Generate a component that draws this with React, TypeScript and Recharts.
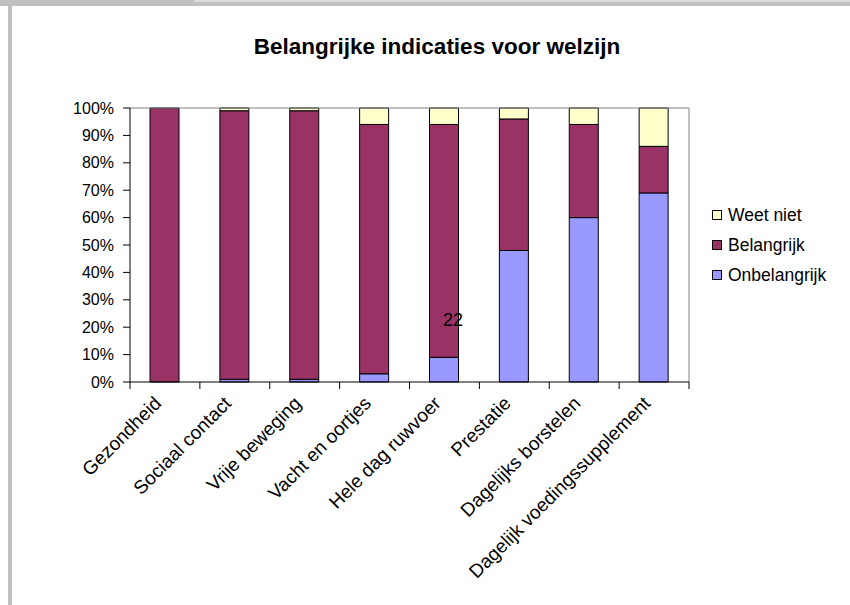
import React from 'react';
import { Bar, BarChart, Legend, ReferenceLine, XAxis, YAxis } from 'recharts';

const categories = [
	'Gezondheid',
	'Sociaal contact',
	'Vrije beweging',
	'Vacht en oortjes',
	'Hele dag ruwvoer',
	'Prestatie',
	'Dagelijks borstelen',
	'Dagelijk voedingssupplement',
];
const onbelangrijk = [0, 1, 1, 3, 9, 48, 60, 69];
const belangrijk = [100, 98, 98, 91, 85, 48, 34, 17];
const weetNiet = [0, 1, 1, 6, 6, 4, 6, 14];
const yTicks = [0, 10, 20, 30, 40, 50, 60, 70, 80, 90, 100];

// category slots on a numeric axis: boundaries get tick marks, centres get labels
const xTicks = Array.from({ length: categories.length * 2 + 1 }, (_, i) => i / 2);

const data = categories.map((name, i) => ({
	name,
	pos: i + 0.5,
	onbelangrijk: onbelangrijk[i],
	belangrijk: belangrijk[i],
	weetNiet: weetNiet[i],
}));

const FONT = '"Liberation Sans", Arial, sans-serif';

const legendItems = [
	{ label: 'Weet niet', color: '#FFFFCC' },
	{ label: 'Belangrijk', color: '#993366' },
	{ label: 'Onbelangrijk', color: '#9999FF' },
];

const renderLegend = () => (
	<div style={{ fontFamily: FONT, fontSize: 17.5, color: '#000' }}>
		{legendItems.map(item => (
			<div key={item.label} style={{ display: 'flex', alignItems: 'center', height: 30 }}>
				<span
					style={{
						width: 8,
						height: 8,
						background: item.color,
						border: '1px solid #000',
						marginRight: 6,
					}}
				/>
				<span>{item.label}</span>
			</div>
		))}
	</div>
);

const AxisTick = (props: any) => {
	const { x, y, payload } = props;
	const v = payload.value;
	if (Number.isInteger(v)) {
		return <line x1={x} x2={x} y1={y} y2={y + 7} stroke='#000' strokeWidth={1} />;
	}
	const label = categories[Math.floor(v)];
	const tx = x - 6;
	const ty = y + 19;
	return (
		<text
			x={tx}
			y={ty}
			transform={`rotate(-45, ${tx}, ${ty})`}
			textAnchor='end'
			dominantBaseline='middle'
			fontFamily={FONT}
			fontSize={19}
			fill='#000'
		>
			{label}
		</text>
	);
};

export default function App() {
	return (
		<div
			style={{
				position: 'absolute',
				left: 0,
				top: 0,
				width: 850,
				height: 605,
				background: '#fff',
				overflow: 'hidden',
			}}
		>
			<div style={{ position: 'absolute', left: 0, top: 0, width: 850, height: 6, background: '#c0c0c0' }} />
			<div style={{ position: 'absolute', left: 194, top: 0, width: 656, height: 2, background: '#dadada' }} />
			<div style={{ position: 'absolute', left: 8, top: 0, width: 4, height: 605, background: '#c0c0c0' }} />
			<div
				style={{
					position: 'absolute',
					left: 0,
					width: 874,
					top: 34,
					textAlign: 'center',
					fontFamily: FONT,
					fontWeight: 'bold',
					fontSize: 22.5,
					color: '#000',
				}}
			>
				Belangrijke indicaties voor welzijn
			</div>
			<BarChart
				width={850}
				height={605}
				data={data}
				margin={{ top: 108, right: 161, bottom: 73, left: 0 }}
				barSize={29}
				style={{ position: 'absolute', left: 0, top: 0 }}
			>
				<XAxis
					type='number'
					dataKey='pos'
					domain={[0, 8]}
					ticks={xTicks}
					interval={0}
					height={150}
					tickSize={0}
					tickMargin={0}
					tickLine={false}
					axisLine={{ stroke: '#000' }}
					tick={<AxisTick />}
				/>
				<YAxis
					type='number'
					domain={[0, 100]}
					ticks={yTicks}
					interval={0}
					width={130}
					tickFormatter={v => `${v}%`}
					tickSize={7}
					tickMargin={9}
					axisLine={{ stroke: '#000' }}
					tickLine={{ stroke: '#000' }}
					tick={{ fontFamily: FONT, fontSize: 16, fill: '#000' }}
				/>
				<ReferenceLine y={100} stroke='#808080' />
				<ReferenceLine x={8} stroke='#808080' />
				<Legend
					layout='vertical'
					align='center'
					verticalAlign='middle'
					content={renderLegend}
					wrapperStyle={{ position: 'absolute', left: 712, top: 200, width: 130 }}
				/>
				<Bar
					dataKey='onbelangrijk'
					stackId='a'
					fill='#9999FF'
					stroke='#000'
					strokeWidth={1}
					isAnimationActive={false}
				/>
				<Bar
					dataKey='belangrijk'
					stackId='a'
					fill='#993366'
					stroke='#000'
					strokeWidth={1}
					isAnimationActive={false}
				/>
				<Bar
					dataKey='weetNiet'
					stackId='a'
					fill='#FFFFCC'
					stroke='#000'
					strokeWidth={1}
					isAnimationActive={false}
				/>
			</BarChart>
			<div
				style={{
					position: 'absolute',
					left: 443,
					top: 310,
					fontFamily: FONT,
					fontSize: 18,
					color: '#000',
				}}
			>
				22
			</div>
		</div>
	);
}
